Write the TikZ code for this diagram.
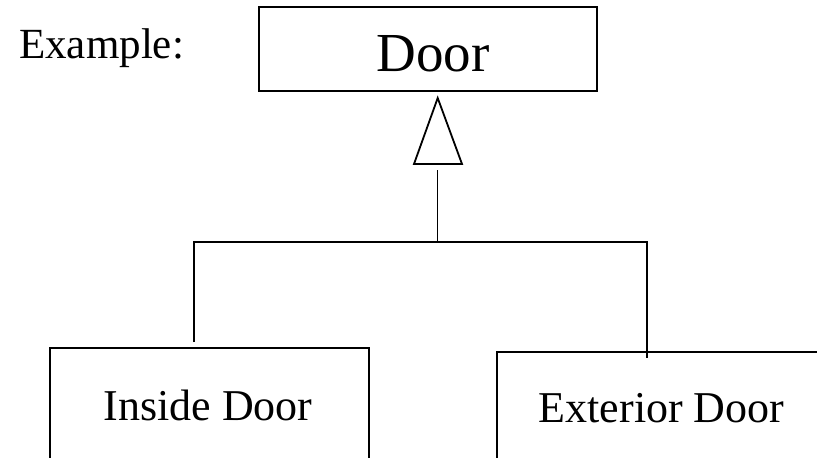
\documentclass[tikz,border=0pt]{standalone}
\usepackage{fontspec}
\setmainfont{Liberation Serif}
\begin{document}
\begin{tikzpicture}[x=1pt,y=-1pt,
  line/.style={line width=1.8pt,black},
  classbox/.style={draw,line width=1.8pt,rectangle,inner sep=0pt},
  caption/.style={font=\fontsize{44}{50}\selectfont,inner sep=0pt,anchor=base}]
\useasboundingbox (0,0) rectangle (817,458);
\clip (0,0) rectangle (817,458);

% heading
\node[caption,anchor=base west,font=\fontsize{43}{50}\selectfont] (example) at (19,58) {Example:};

% superclass
\node[classbox,minimum width=338pt,minimum height=84pt] (door) at (428,49) {};
\node[caption,font=\fontsize{55}{60}\selectfont] (doortext) at (433,71) {Door};

% subclasses (boxes run past the lower edge)
\node[classbox,anchor=north west,minimum width=319pt,minimum height=200pt] (inside) at (49,347) {};
\node[caption] (insidetext) at (208,420) {Inside Door};
\node[classbox,anchor=north west,minimum width=400pt,minimum height=200pt] (exterior) at (496,351) {};
\node[caption] (exteriortext) at (661.5,422) {Exterior Door};

% generalisation triangle
\coordinate (apex) at (437.7,98);
\coordinate (baseL) at (414,164);
\coordinate (baseR) at (462,164);
\draw[line,line join=miter] (apex) -- (baseL) -- (baseR) -- cycle;

% inheritance connectors
\coordinate (stem) at (437.5,170);
\coordinate (bar) at (437.5,242);
\coordinate (barL) at (194,242);
\coordinate (barR) at (647,242);
\coordinate (inL) at (194,342);
\coordinate (exR) at (647,358);
\draw[line] (stem) -- (bar);
\draw[line] (inL) -- (barL) -- (barR) -- (exR);
\end{tikzpicture}
\end{document}
